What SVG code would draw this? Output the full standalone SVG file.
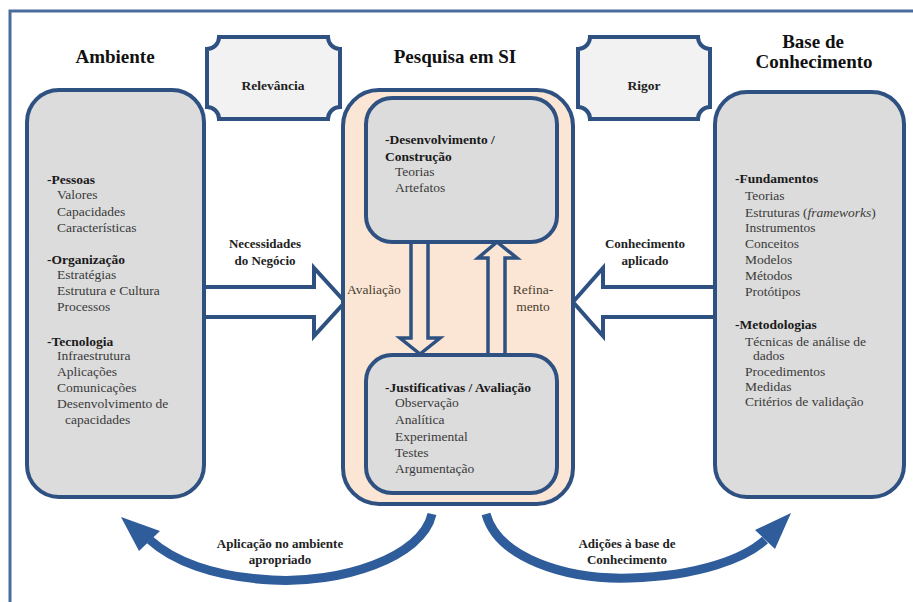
<svg xmlns="http://www.w3.org/2000/svg" width="913" height="602" viewBox="0 0 913 602">
  <defs>
    <style>
      .frame { fill: none; stroke: #4a6c9b; stroke-width: 3; }
      .side { fill: #dcdcdc; stroke: #2e5182; stroke-width: 4; }
      .inner { fill: #dcdcdc; stroke: #2e5182; stroke-width: 4; }
      .core { fill: #fbe6d6; stroke: #2e5182; stroke-width: 4; }
      .plaque { fill: #f2f2f2; stroke: #2e5182; stroke-width: 4; }
      .block { fill: #ffffff; stroke: #2e5182; stroke-width: 4; stroke-linejoin: miter; }
      .vblock { fill: #fbe6d6; stroke: #2e5182; stroke-width: 3.5; stroke-linejoin: miter; }
      .curve { fill: none; stroke: #2f5c9a; stroke-width: 9; stroke-linecap: butt; }
      .head { fill: #2f5c9a; }
      .title { font-size: 19px; font-weight: bold; fill: #111; text-anchor: middle; }
      .tag { font-size: 13.5px; font-weight: bold; fill: #222; text-anchor: middle; }
      .lbl { font-size: 13px; font-weight: bold; fill: #222; text-anchor: middle; }
      .hd { font-size: 13.5px; font-weight: bold; fill: #1a1a1a; }
      .it { font-size: 13.5px; fill: #3a3a3a; }
      .mid { font-size: 13.5px; fill: #4a3e30; }
    </style>
  </defs>

  <rect class="frame" x="10" y="11" width="930" height="620"/>

  <g font-family="Liberation Serif, Times New Roman, serif">
  <!-- titles -->
  <text class="title" x="115" y="63">Ambiente</text>
  <text class="title" x="455" y="63">Pesquisa em SI</text>
  <text class="title" x="813" y="48">Base de</text>
  <text class="title" x="814" y="68">Conhecimento</text>

  <!-- connectors -->
  <g id="connectors">
    <!-- business needs: environment to research -->
    <polygon class="block" points="203,287 314,287 314,268 345,302 314,336 314,317 203,317"/>
    <!-- applied knowledge: knowledge base to research -->
    <polygon class="block" points="717,287 603,287 603,268 573,302 603,336 603,317 717,317"/>
    <!-- application in the environment -->
    <path class="curve" d="M432 514 C422 558 340 584 272 580 C212 577 172 560 150 540"/>
    <polygon class="head" points="121,517 160,531 139,551"/>
    <!-- additions to the knowledge base -->
    <path class="curve" d="M486 514 C498 558 566 580 630 578 C700 576 745 558 765 540"/>
    <polygon class="head" points="791,513 775,549 755,530"/>
  </g>

  <g id="relevancia">
    <path class="plaque" d="M219 37 L328 37 A12 12 0 0 0 340 49 L340 107 A12 12 0 0 0 328 119 L219 119 A12 12 0 0 0 207 107 L207 49 A12 12 0 0 0 219 37 Z"/>
    <text class="tag" x="273" y="90">Relevância</text>
  </g>

  <g id="rigor">
    <path class="plaque" d="M590 37 L698 37 A12 12 0 0 0 710 49 L710 107 A12 12 0 0 0 698 119 L590 119 A12 12 0 0 0 578 107 L578 49 A12 12 0 0 0 590 37 Z"/>
    <text class="tag" x="644" y="90">Rigor</text>
  </g>

  <g id="ambiente">
    <rect class="side" x="27" y="90" width="177" height="407" rx="32"/>
    <text class="hd" x="47" y="184">-Pessoas</text>
    <text class="it" x="57" y="199">Valores</text>
    <text class="it" x="57" y="216">Capacidades</text>
    <text class="it" x="57" y="232">Características</text>
    <text class="hd" x="47" y="264">-Organização</text>
    <text class="it" x="57" y="279">Estratégias</text>
    <text class="it" x="57" y="295">Estrutura e Cultura</text>
    <text class="it" x="57" y="311">Processos</text>
    <text class="hd" x="47" y="346">-Tecnologia</text>
    <text class="it" x="57" y="360">Infraestrutura</text>
    <text class="it" x="57" y="376">Aplicações</text>
    <text class="it" x="57" y="392">Comunicações</text>
    <text class="it" x="57" y="408">Desenvolvimento de</text>
    <text class="it" x="65" y="424">capacidades</text>
  </g>

  <g id="pesquisa">
    <rect class="core" x="343" y="90" width="230" height="414" rx="36"/>
    <!-- evaluation / refinement loop -->
    <polygon class="vblock" points="411,242 411,338 400,338 420,354 440,338 428,338 428,242"/>
    <polygon class="vblock" points="488,355 488,258 478,258 497,242 517,258 505,258 505,355"/>
    <text class="mid" x="347" y="294">Avaliação</text>
    <text class="mid" x="533" y="294" text-anchor="middle">Refina-</text>
    <text class="mid" x="533" y="311" text-anchor="middle">mento</text>
  </g>

  <g id="desenvolvimento">
    <rect class="inner" x="366" y="98" width="191" height="144" rx="26"/>
    <text class="hd" x="385" y="144">-Desenvolvimento /</text>
    <text class="hd" x="385" y="161">Construção</text>
    <text class="it" x="395" y="176">Teorias</text>
    <text class="it" x="395" y="192">Artefatos</text>
  </g>

  <g id="justificativas">
    <rect class="inner" x="366" y="355" width="191" height="138" rx="26"/>
    <text class="hd" x="385" y="392">-Justificativas / Avaliação</text>
    <text class="it" x="395" y="407">Observação</text>
    <text class="it" x="395" y="424">Analítica</text>
    <text class="it" x="395" y="441">Experimental</text>
    <text class="it" x="395" y="457">Testes</text>
    <text class="it" x="395" y="473">Argumentação</text>
  </g>

  <g id="conhecimento">
    <rect class="side" x="715" y="92" width="189" height="405" rx="32"/>
    <text class="hd" x="735" y="183">-Fundamentos</text>
    <text class="it" x="745" y="200">Teorias</text>
    <text class="it" x="745" y="217">Estruturas (<tspan font-style="italic">frameworks</tspan>)</text>
    <text class="it" x="745" y="232">Instrumentos</text>
    <text class="it" x="745" y="248">Conceitos</text>
    <text class="it" x="745" y="264">Modelos</text>
    <text class="it" x="745" y="280">Métodos</text>
    <text class="it" x="745" y="296">Protótipos</text>
    <text class="hd" x="735" y="329">-Metodologias</text>
    <text class="it" x="745" y="346">Técnicas de análise de</text>
    <text class="it" x="753" y="360">dados</text>
    <text class="it" x="745" y="376">Procedimentos</text>
    <text class="it" x="745" y="391">Medidas</text>
    <text class="it" x="745" y="406">Critérios de validação</text>
  </g>

  <!-- connector labels -->
  <text class="lbl" x="265" y="248">Necessidades</text>
  <text class="lbl" x="265" y="265">do Negócio</text>
  <text class="lbl" x="645" y="248">Conhecimento</text>
  <text class="lbl" x="645" y="265">aplicado</text>
  <text class="lbl" x="280" y="548">Aplicação no ambiente</text>
  <text class="lbl" x="280" y="564">apropriado</text>
  <text class="lbl" x="627" y="548">Adições à base de</text>
  <text class="lbl" x="627" y="564">Conhecimento</text>
  </g>
</svg>
